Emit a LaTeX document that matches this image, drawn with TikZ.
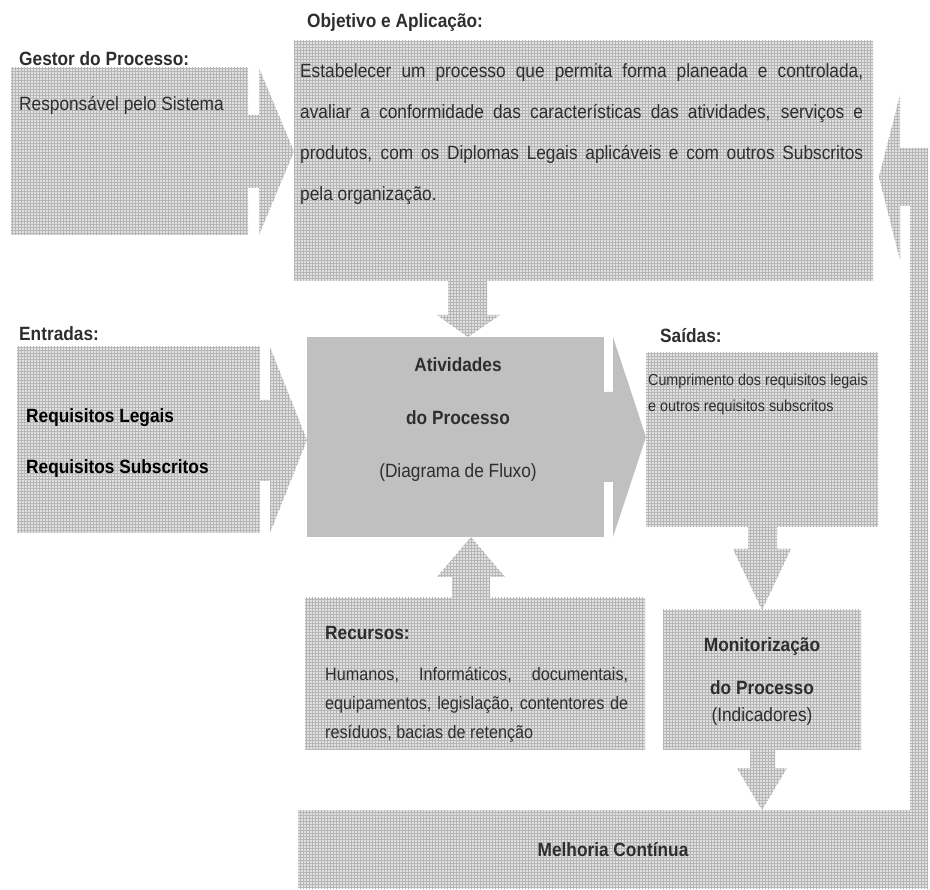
\documentclass[tikz,border=0pt]{standalone}
\usepackage{fontspec}
\setmainfont{Liberation Sans}[FakeStretch=0.9]
\usetikzlibrary{patterns}

\definecolor{texbg}{HTML}{E1E1E1}
\definecolor{texline}{HTML}{B6B6B6}
\definecolor{solidgray}{HTML}{C0C0C0}
\definecolor{ink}{HTML}{2E2E2E}

\newcommand{\lblfont}{\fontsize{19.2}{23}\selectfont\bfseries}
\newcommand{\txtfont}{\fontsize{19.2}{23}\selectfont}

\begin{document}
\begin{tikzpicture}[x=1pt, y=-1pt,
    texfill/.style={preaction={fill=texbg}, pattern=grid, pattern color=texline},
    box/.style={texfill, inner sep=0pt, outer sep=0pt, anchor=north west},
    plainbox/.style={fill=solidgray, inner sep=0pt, outer sep=0pt, anchor=north west},
    lbl/.style={anchor=base west, inner sep=0pt, text=ink, font=\lblfont},
    txt/.style={anchor=base west, inner sep=0pt, text=ink, font=\txtfont},
    ctr/.style={anchor=base, inner sep=0pt, text=ink}]
  \useasboundingbox (0,0) rectangle (930,890);

  % boxes
  \node[box, minimum width=237pt, minimum height=167pt] (gestor) at (11,68) {};
  \node[box, minimum width=579pt, minimum height=240pt] (objetivo) at (294,41) {};
  \node[box, minimum width=243pt, minimum height=186pt] (entradas) at (17,347) {};
  \node[plainbox, minimum width=297pt, minimum height=200pt] (atividades) at (307,337) {};
  \node[box, minimum width=232pt, minimum height=174pt] (saidas) at (646,353) {};
  \node[box, minimum width=340pt, minimum height=151pt] (recursos) at (305,598) {};
  \node[box, minimum width=198pt, minimum height=139pt] (monitor) at (663,610) {};
  \node[box, minimum width=630pt, minimum height=78pt] (melhoria) at (298,810) {};

  % block arrows
  \path[texfill] (248,115) -- (259,115) -- (259,68) -- (objetivo.west |- gestor.center)
    -- (259,235) -- (259,188) -- (248,188) -- cycle;
  \path[texfill] (448,281) -- (487,281) -- (487,315) -- (500,315) -- (468,337)
    -- (437,315) -- (448,315) -- cycle;
  \path[texfill] (260,400) -- (270,400) -- (270,347) -- (atividades.west |- entradas.center)
    -- (270,533) -- (270,481) -- (260,481) -- cycle;
  \path[fill=solidgray] (604,392) -- (613,392) -- (613,337) -- (saidas.west |- atividades.center)
    -- (613,537) -- (613,482) -- (604,482) -- cycle;
  \path[texfill] (748,527) -- (777,527) -- (777,549) -- (791,549) -- (monitor.north)
    -- (733,549) -- (748,549) -- cycle;
  \path[texfill] (452,598) -- (452,577) -- (437,577) -- (471,537) -- (505,577)
    -- (490,577) -- (490,598) -- cycle;
  \path[texfill] (750,749) -- (775,749) -- (775,768) -- (787,768) -- (melhoria.north -| monitor.south)
    -- (737,768) -- (750,768) -- cycle;
  \path[texfill] (910,810) -- (910,206) -- (900,206) -- (900,260) -- (879,177)
    -- (900,95) -- (900,148) -- (928,148) -- (928,810) -- cycle;

  % texts
  \node[lbl] (objlbl) at (307,28) {Objetivo e Aplicação:};
  \node[anchor=north west, inner sep=0pt, text=ink, text width=563pt, align=justify,
    font=\fontsize{19.2}{41}\selectfont] (objtxt) at (300,63)
    {Estabelecer um processo que permita forma planeada e controlada,\linebreak
     avaliar a conformidade das características das atividades, serviços e\linebreak
     produtos, com os Diplomas Legais aplicáveis e com outros Subscritos\linebreak
     pela organização.};
  \node[lbl] (gestorlbl) at (19,66) {Gestor do Processo:};
  \node[txt] (gestortxt) at (19,111) {Responsável pelo Sistema};
  \node[lbl] (entlbl) at (19,341) {Entradas:};
  \node[lbl, text=black] (req1) at (26,423) {Requisitos Legais};
  \node[lbl, text=black] (req2) at (26,474) {Requisitos Subscritos};
  \node[ctr, font=\lblfont] (ativ1) at (458,372) {Atividades};
  \node[ctr, font=\lblfont] (ativ2) at (458,425) {do Processo};
  \node[ctr, font=\txtfont] (ativ3) at (458,478) {(Diagrama de Fluxo)};
  \node[lbl] (saidlbl) at (660,343) {Saídas:};
  \node[txt, font=\fontsize{15.9}{26}\selectfont, align=left] (saidtxt) at (648,412)
    {Cumprimento dos requisitos legais\\e outros requisitos subscritos};
  \node[lbl] (reclbl) at (325,640) {Recursos:};
  \node[anchor=north west, inner sep=0pt, text=ink, text width=303pt, align=justify,
    font=\fontsize{18}{29}\selectfont] (rectxt) at (325,667)
    {Humanos, Informáticos, documentais,\linebreak
     equipamentos, legislação, contentores de\linebreak
     resíduos, bacias de retenção};
  \node[ctr, font=\lblfont] (mon1) at (762,651) {Monitorização};
  \node[ctr, font=\lblfont] (mon2) at (762,694) {do Processo};
  \node[ctr, font=\txtfont] (mon3) at (762,721) {(Indicadores)};
  \node[ctr, font=\lblfont] (melh) at (613,856) {Melhoria Contínua};
\end{tikzpicture}
\end{document}
